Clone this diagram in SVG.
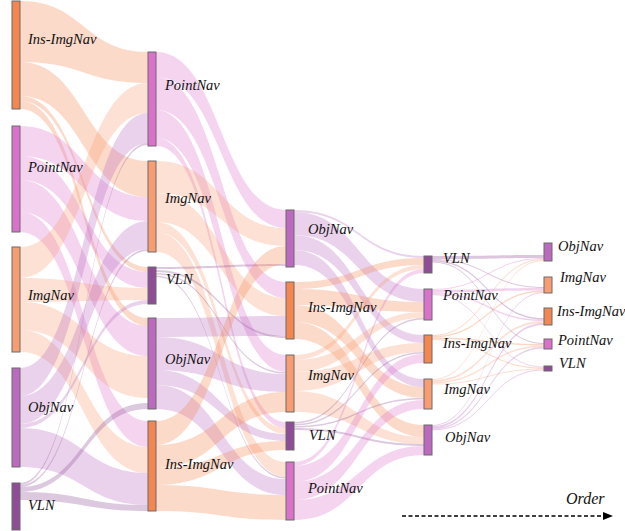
<svg xmlns="http://www.w3.org/2000/svg" width="625" height="531" viewBox="0 0 625 531">
<style>
  .bg { fill: #ffffff; }
  .node rect { stroke: #6b6b6b; stroke-width: 1; }
  .ins { fill: #F4864F; }
  .img { fill: #F89D72; }
  .pnt { fill: #DA72CB; }
  .obj { fill: #BB6ABF; }
  .vln { fill: #8E4D96; }
  .links path { fill-opacity: 0.3; }
  .links .thin path { fill-opacity: 0.32; }
  .lab { font-family: "Liberation Serif", "Times New Roman", serif; font-style: italic; font-size: 14.5px; fill: #111; }
  .axis { font-family: "Liberation Serif", "Times New Roman", serif; font-style: italic; font-size: 16px; fill: #111; }
</style>
<rect class="bg" x="0" y="0" width="625" height="531"/>

<!-- ribbons between consecutive columns, coloured by source task -->
<g id="links" class="links">
  <!-- column 1 -> column 2 -->
  <g id="links-1">
    <path class="ins" d="M20,1C84,1 84,52 148,52L148,83C84,83 84,62 20,62Z"/>
    <path class="ins" d="M20,62C84,62 84,161 148,161L148,197C84,197 84,96 20,96Z"/>
    <path class="ins" d="M20,96C84,96 84,267 148,267L148,272C84,272 84,101 20,101Z"/>
    <path class="ins" d="M20,101C84,101 84,318 148,318L148,326C84,326 84,109 20,109Z"/>
    <path class="pnt" d="M20,126C84,126 84,197 148,197L148,221C84,221 84,156 20,156Z"/>
    <path class="pnt" d="M20,156C84,156 84,272 148,272L148,288C84,288 84,180 20,180Z"/>
    <path class="pnt" d="M20,180C84,180 84,326 148,326L148,356C84,356 84,212 20,212Z"/>
    <path class="pnt" d="M20,212C84,212 84,421 148,421L148,447C84,447 84,232 20,232Z"/>
    <path class="img" d="M20,247C84,247 84,83 148,83L148,113C84,113 84,278 20,278Z"/>
    <path class="img" d="M20,278C84,278 84,288 148,288L148,300C84,300 84,302 20,302Z"/>
    <path class="img" d="M20,302C84,302 84,356 148,356L148,398C84,398 84,330 20,330Z"/>
    <path class="img" d="M20,330C84,330 84,447 148,447L148,473C84,473 84,352 20,352Z"/>
    <path class="obj" d="M20,368C84,368 84,113 148,113L148,143C84,143 84,396 20,396Z"/>
    <path class="obj" d="M20,396C84,396 84,221 148,221L148,249C84,249 84,424 20,424Z"/>
    <path class="obj" d="M20,424C84,424 84,300 148,300L148,304C84,304 84,428 20,428Z"/>
    <path class="obj" d="M20,428C84,428 84,473 148,473L148,505C84,505 84,467 20,467Z"/>
    <path class="vln" d="M20,483C84,483 84,143 148,143L148,145C84,145 84,485 20,485Z"/>
    <path class="vln" d="M20,485C84,485 84,249 148,249L148,251C84,251 84,487 20,487Z"/>
    <path class="vln" d="M20,487C84,487 84,403 148,403L148,409C84,409 84,492 20,492Z"/>
    <path class="vln" d="M20,492C84,492 84,505 148,505L148,511C84,511 84,500 20,500Z"/>
  </g>
  <!-- column 2 -> column 3 -->
  <g id="links-2">
    <path class="pnt" d="M156,52C221,52 221,210 286,210L286,228C221,228 221,77 156,77Z"/>
    <path class="pnt" d="M156,77C221,77 221,282 286,282L286,298C221,298 221,110 156,110Z"/>
    <path class="pnt" d="M156,110C221,110 221,355 286,355L286,372C221,372 221,138 156,138Z"/>
    <path class="pnt" d="M156,138C221,138 221,422 286,422L286,428C221,428 221,146 156,146Z"/>
    <path class="img" d="M156,161C221,161 221,228 286,228L286,246C221,246 221,193 156,193Z"/>
    <path class="img" d="M156,193C221,193 221,298 286,298L286,316C221,316 221,222 156,222Z"/>
    <path class="img" d="M156,222C221,222 221,428 286,428L286,434C221,434 221,232 156,232Z"/>
    <path class="img" d="M156,232C221,232 221,462 286,462L286,477C221,477 221,252 156,252Z"/>
    <path class="vln" d="M156,267C221,267 221,264 286,264L286,266C221,266 221,269 156,269Z"/>
    <path class="vln" d="M156,270C221,270 221,336 286,336L286,338C221,338 221,272 156,272Z"/>
    <path class="vln" d="M156,273C221,273 221,372 286,372L286,373.5C221,373.5 221,274.5 156,274.5Z"/>
    <path class="vln" d="M156,275.5C221,275.5 221,477 286,477L286,478.5C221,478.5 221,277 156,277Z"/>
    <path class="obj" d="M156,318C221,318 221,316 286,316L286,336C221,336 221,337 156,337Z"/>
    <path class="obj" d="M156,337C221,337 221,374 286,374L286,392C221,392 221,370 156,370Z"/>
    <path class="obj" d="M156,370C221,370 221,434 286,434L286,441C221,441 221,385 156,385Z"/>
    <path class="obj" d="M156,385C221,385 221,479 286,479L286,495C221,495 221,409 156,409Z"/>
    <path class="ins" d="M156,421C221,421 221,246 286,246L286,264C221,264 221,445 156,445Z"/>
    <path class="ins" d="M156,445C221,445 221,392 286,392L286,412C221,412 221,468 156,468Z"/>
    <path class="ins" d="M156,468C221,468 221,441 286,441L286,450C221,450 221,485 156,485Z"/>
    <path class="ins" d="M156,485C221,485 221,495 286,495L286,520C221,520 221,511 156,511Z"/>
  </g>
  <!-- column 3 -> column 4 -->
  <g id="links-3">
    <path class="obj" d="M294,210C359,210 359,256 424,256L424,258C359,258 359,212 294,212Z"/>
    <path class="obj" d="M294,212C359,212 359,289 424,289L424,302C359,302 359,235 294,235Z"/>
    <path class="obj" d="M294,235C359,235 359,335 424,335L424,343C359,343 359,250 294,250Z"/>
    <path class="obj" d="M294,250C359,250 359,379 424,379L424,387C359,387 359,265 294,265Z"/>
    <path class="ins" d="M294,282C359,282 359,258 424,258L424,265C359,265 359,289 294,289Z"/>
    <path class="ins" d="M294,289C359,289 359,302 424,302L424,312C359,312 359,305 294,305Z"/>
    <path class="ins" d="M294,305C359,305 359,387 424,387L424,398C359,398 359,322 294,322Z"/>
    <path class="ins" d="M294,322C359,322 359,425 424,425L424,437C359,437 359,339 294,339Z"/>
    <path class="img" d="M294,355C359,355 359,265 424,265L424,269C359,269 359,360 294,360Z"/>
    <path class="img" d="M294,360C359,360 359,312 424,312L424,318C359,318 359,372 294,372Z"/>
    <path class="img" d="M294,372C359,372 359,343 424,343L424,352C359,352 359,391 294,391Z"/>
    <path class="img" d="M294,391C359,391 359,437 424,437L424,444C359,444 359,412 294,412Z"/>
    <path class="vln" d="M294,422C359,422 359,318 424,318L424,319.5C359,319.5 359,423.5 294,423.5Z"/>
    <path class="vln" d="M294,424C359,424 359,352 424,352L424,353.5C359,353.5 359,425.5 294,425.5Z"/>
    <path class="vln" d="M294,426C359,426 359,398 424,398L424,399.5C359,399.5 359,427.5 294,427.5Z"/>
    <path class="vln" d="M294,428C359,428 359,444 424,444L424,446C359,446 359,430 294,430Z"/>
    <path class="pnt" d="M294,462C359,462 359,269 424,269L424,273C359,273 359,466 294,466Z"/>
    <path class="pnt" d="M294,466C359,466 359,354 424,354L424,363C359,363 359,482 294,482Z"/>
    <path class="pnt" d="M294,482C359,482 359,400 424,400L424,409C359,409 359,500 294,500Z"/>
    <path class="pnt" d="M294,500C359,500 359,446 424,446L424,455C359,455 359,520 294,520Z"/>
  </g>
  <!-- column 4 -> column 5 -->
  <g id="links-4" class="thin">
    <path class="vln" d="M432,256C488,256 488,255 544,255L544,258C488,258 488,259 432,259Z"/>
    <path class="vln" d="M432,259C488,259 488,287 544,287L544,288C488,288 488,260 432,260Z"/>
    <path class="vln" d="M432,260C488,260 488,318 544,318L544,319.5C488,319.5 488,261.5 432,261.5Z"/>
    <path class="vln" d="M432,261.5C488,261.5 488,343 544,343L544,344C488,344 488,262.5 432,262.5Z"/>
    <path class="pnt" d="M432,289C488,289 488,258 544,258L544,259C488,259 488,290 432,290Z"/>
    <path class="pnt" d="M432,290C488,290 488,288 544,288L544,290.5C488,290.5 488,292.5 432,292.5Z"/>
    <path class="pnt" d="M432,292.5C488,292.5 488,319.5 544,319.5L544,321C488,321 488,294 432,294Z"/>
    <path class="pnt" d="M432,294C488,294 488,366.5 544,366.5L544,367.5C488,367.5 488,295 432,295Z"/>
    <path class="ins" d="M432,335C488,335 488,259 544,259L544,260C488,260 488,336 432,336Z"/>
    <path class="ins" d="M432,336C488,336 488,290.5 544,290.5L544,292C488,292 488,337.5 432,337.5Z"/>
    <path class="ins" d="M432,337.5C488,337.5 488,344 544,344L544,345.5C488,345.5 488,339 432,339Z"/>
    <path class="ins" d="M432,339C488,339 488,367.5 544,367.5L544,368.5C488,368.5 488,340 432,340Z"/>
    <path class="img" d="M432,379C488,379 488,260 544,260L544,261C488,261 488,380 432,380Z"/>
    <path class="img" d="M432,380C488,380 488,321 544,321L544,323C488,323 488,382 432,382Z"/>
    <path class="img" d="M432,382C488,382 488,345.5 544,345.5L544,347C488,347 488,383.5 432,383.5Z"/>
    <path class="img" d="M432,383.5C488,383.5 488,368.5 544,368.5L544,369.5C488,369.5 488,384.5 432,384.5Z"/>
    <path class="obj" d="M432,425C488,425 488,292 544,292L544,293C488,293 488,426 432,426Z"/>
    <path class="obj" d="M432,426C488,426 488,323 544,323L544,325C488,325 488,428 432,428Z"/>
    <path class="obj" d="M432,428C488,428 488,347 544,347L544,348.5C488,348.5 488,429.5 432,429.5Z"/>
    <path class="obj" d="M432,429.5C488,429.5 488,369.5 544,369.5L544,370.5C488,370.5 488,430.5 432,430.5Z"/>
  </g>
</g>

<!-- column 1 -->
<g id="c1-insimgnav" class="node"><rect class="ins" x="12" y="1" width="8" height="108"/><text class="lab" x="28" y="44">Ins-ImgNav</text></g>
<g id="c1-pointnav" class="node"><rect class="pnt" x="12" y="126" width="8" height="106"/><text class="lab" x="28" y="172">PointNav</text></g>
<g id="c1-imgnav" class="node"><rect class="img" x="12" y="247" width="8" height="105"/><text class="lab" x="28" y="300">ImgNav</text></g>
<g id="c1-objnav" class="node"><rect class="obj" x="12" y="368" width="8" height="99"/><text class="lab" x="28" y="412">ObjNav</text></g>
<g id="c1-vln" class="node"><rect class="vln" x="12" y="483" width="8" height="47"/><text class="lab" x="28" y="510">VLN</text></g>

<!-- column 2 -->
<g id="c2-pointnav" class="node"><rect class="pnt" x="148" y="52" width="8" height="94"/><text class="lab" x="165" y="90">PointNav</text></g>
<g id="c2-imgnav" class="node"><rect class="img" x="148" y="161" width="8" height="91"/><text class="lab" x="165" y="203">ImgNav</text></g>
<g id="c2-vln" class="node"><rect class="vln" x="148" y="267" width="8" height="37"/><text class="lab" x="166" y="284">VLN</text></g>
<g id="c2-objnav" class="node"><rect class="obj" x="148" y="318" width="8" height="91"/><text class="lab" x="165" y="364">ObjNav</text></g>
<g id="c2-insimgnav" class="node"><rect class="ins" x="148" y="421" width="8" height="90"/><text class="lab" x="165" y="469">Ins-ImgNav</text></g>

<!-- column 3 -->
<g id="c3-objnav" class="node"><rect class="obj" x="286" y="210" width="8" height="57"/><text class="lab" x="308" y="234">ObjNav</text></g>
<g id="c3-insimgnav" class="node"><rect class="ins" x="286" y="282" width="8" height="57"/><text class="lab" x="308" y="312">Ins-ImgNav</text></g>
<g id="c3-imgnav" class="node"><rect class="img" x="286" y="355" width="8" height="57"/><text class="lab" x="308" y="380">ImgNav</text></g>
<g id="c3-vln" class="node"><rect class="vln" x="286" y="422" width="8" height="28"/><text class="lab" x="309" y="440">VLN</text></g>
<g id="c3-pointnav" class="node"><rect class="pnt" x="286" y="462" width="8" height="58"/><text class="lab" x="308" y="493">PointNav</text></g>

<!-- column 4 -->
<g id="c4-vln" class="node"><rect class="vln" x="424" y="256" width="8" height="17"/><text class="lab" x="443" y="263">VLN</text></g>
<g id="c4-pointnav" class="node"><rect class="pnt" x="424" y="289" width="8" height="31"/><text class="lab" x="443" y="300">PointNav</text></g>
<g id="c4-insimgnav" class="node"><rect class="ins" x="424" y="335" width="8" height="28"/><text class="lab" x="443" y="348">Ins-ImgNav</text></g>
<g id="c4-imgnav" class="node"><rect class="img" x="424" y="379" width="8" height="30"/><text class="lab" x="444" y="394">ImgNav</text></g>
<g id="c4-objnav" class="node"><rect class="obj" x="424" y="425" width="8" height="30"/><text class="lab" x="445" y="442">ObjNav</text></g>

<!-- column 5 -->
<g id="c5-objnav" class="node"><rect class="obj" x="544" y="243" width="8" height="18"/><text class="lab" x="558" y="251">ObjNav</text></g>
<g id="c5-imgnav" class="node"><rect class="img" x="544" y="277" width="8" height="16"/><text class="lab" x="560" y="282">ImgNav</text></g>
<g id="c5-insimgnav" class="node"><rect class="ins" x="544" y="308" width="8" height="17"/><text class="lab" x="557" y="316">Ins-ImgNav</text></g>
<g id="c5-pointnav" class="node"><rect class="pnt" x="544" y="339" width="8" height="10"/><text class="lab" x="558" y="345">PointNav</text></g>
<g id="c5-vln" class="node"><rect class="vln" x="544" y="366" width="8" height="5"/><text class="lab" x="559" y="368">VLN</text></g>

<!-- order axis -->
<g id="order-axis">
  <text class="axis" x="566" y="504">Order</text>
  <line x1="402" y1="516" x2="604" y2="516" stroke="#000" stroke-width="1.6" stroke-dasharray="4 2.5"/>
  <polygon points="603,512 613,516 603,520" fill="#000"/>
</g>
</svg>
